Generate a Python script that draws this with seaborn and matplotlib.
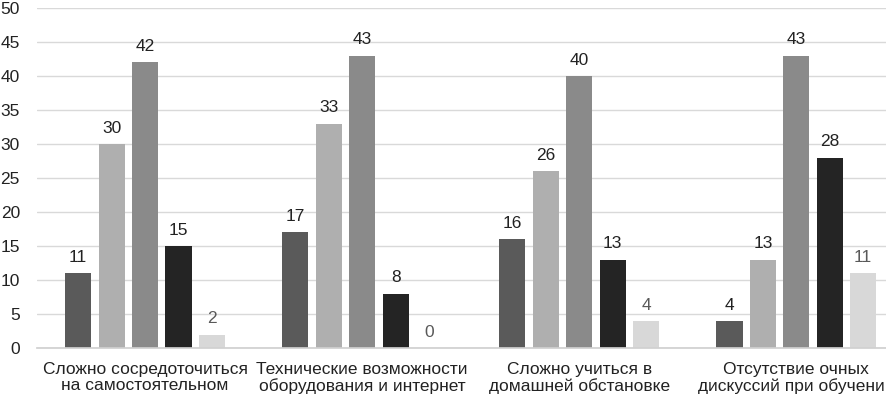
import pandas as pd
import matplotlib
matplotlib.use("Agg")
import matplotlib.pyplot as plt
import seaborn as sns

categories = [
    "Сложно сосредоточиться\nна самостоятельном",
    "Технические возможности\nоборудования и интернет",
    "Сложно учиться в\nдомашней обстановке",
    "Отсутствие очных\nдискуссий при обучении",
]
series_names = ["Ряд 1", "Ряд 2", "Ряд 3", "Ряд 4", "Ряд 5"]
s1 = [11, 17, 16, 4]
s2 = [30, 33, 26, 13]
s3 = [42, 43, 40, 43]
s4 = [15, 8, 13, 28]
s5 = [2, 0, 4, 11]

colors = ["#5a5a5a", "#afafaf", "#8a8a8a", "#242424", "#d8d8d8"]
label_colors = ["#222222", "#222222", "#222222", "#222222", "#595959"]

rows = []
for name, vals in zip(series_names, [s1, s2, s3, s4, s5]):
    for cat, v in zip(categories, vals):
        rows.append({"category": cat, "series": name, "value": v})
df = pd.DataFrame(rows)

sns.set_theme(style="white")
plt.rcParams["font.family"] = ["Liberation Sans", "DejaVu Sans"]

fig = plt.figure(figsize=(8.87, 3.97), dpi=100)
ax = fig.add_axes([0.0412, 0.123, 0.979, 0.857])

sns.barplot(data=df, x="category", y="value", hue="series", order=categories,
            hue_order=series_names, palette=colors, width=0.77, gap=0.22,
            saturation=1, legend=False, linewidth=0, ax=ax)

for cont, lc in zip(ax.containers, label_colors):
    ax.bar_label(cont, padding=6, fontsize=12.5, color=lc)

ax.set_ylim(0, 50)
ax.set_yticks(range(0, 51, 5))
ax.set_xlim(-0.5, 3.5)
ax.yaxis.grid(True, color="#d9d9d9", linewidth=1)
ax.set_axisbelow(True)
for s in ["top", "right", "left"]:
    ax.spines[s].set_visible(False)
ax.spines["bottom"].set_color("#d0d0d0")
ax.tick_params(axis="y", length=0, pad=12, labelsize=12.5, labelcolor="#222222")
ax.tick_params(axis="x", length=0, pad=10, labelsize=12.5, labelcolor="#222222")
for lbl in ax.get_xticklabels():
    lbl.set_linespacing(1.05)
ax.set_xlabel("")
ax.set_ylabel("")

fig.savefig("out.png", dpi=100)
